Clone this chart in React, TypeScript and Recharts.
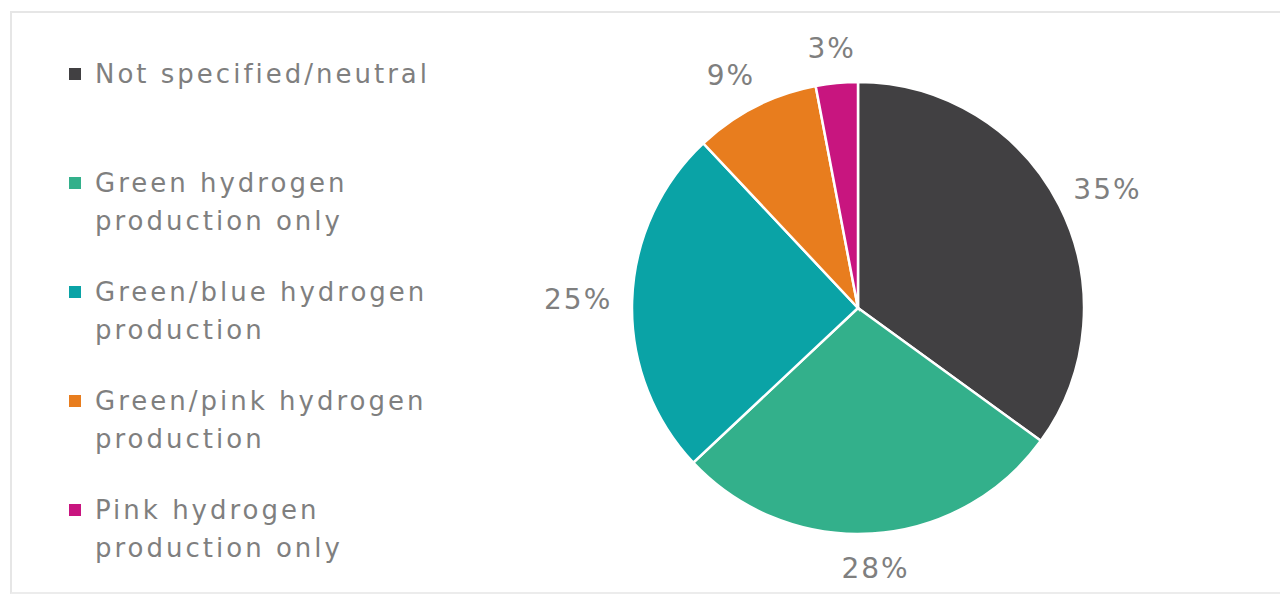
import { PieChart, Pie, Cell } from 'recharts';

const categories = [
  'Not specified/neutral',
  'Green hydrogen\nproduction only',
  'Green/blue hydrogen\nproduction',
  'Green/pink hydrogen\nproduction',
  'Pink hydrogen\nproduction only',
];
const shares = [35, 28, 25, 9, 3];
const colors = ['#414042', '#33b08b', '#0aa3a6', '#e87d1e', '#c8157f'];

const data = categories.map((name, i) => ({ name, value: shares[i] }));

const FONT = '"DejaVu Sans", sans-serif';
const TEXT = '#7f7f7f';
const RAD = Math.PI / 180;

// outside-end labels: box edge sits a little off the rim, like Excel does
function renderLabel(props: any) {
  const { cx, cy, midAngle, outerRadius, value } = props;
  const dx = Math.cos(-midAngle * RAD);
  const dy = Math.sin(-midAngle * RAD);
  const r = outerRadius + 20;
  const x = cx + r * dx + 34 * dx;
  const y = cy + r * dy + 15 * dy;
  return (
    <text
      x={x}
      y={y}
      fill={TEXT}
      fontSize={28}
      fontFamily={FONT}
      letterSpacing={2}
      textAnchor="middle"
      dominantBaseline="central"
    >
      {value}%
    </text>
  );
}

function LegendBox() {
  return (
    <div style={{ fontFamily: FONT, color: TEXT, fontSize: 26, letterSpacing: 3 }}>
      {data.map((d, i) => (
        <div key={d.name} style={{ height: 109, position: 'relative' }}>
          <span
            style={{
              position: 'absolute',
              left: 0,
              top: 13,
              width: 12,
              height: 12,
              background: colors[i],
            }}
          />
          <div style={{ position: 'absolute', left: 26, top: 0, lineHeight: '38px', whiteSpace: 'pre' }}>
            {d.name}
          </div>
        </div>
      ))}
    </div>
  );
}

export default function App() {
  return (
    <div style={{ position: 'absolute', left: 0, top: 0, width: 1280, height: 594, background: '#fff', overflow: 'hidden' }}>
      <div
        style={{
          position: 'absolute',
          left: 10,
          top: 11,
          width: 1290,
          height: 579,
          borderLeft: '2px solid #e6e6e6',
          borderTop: '2px solid #e6e6e6',
          borderBottom: '2px solid #ececec',
        }}
      />
      <div style={{ position: 'absolute', left: 69, top: 55, width: 440 }}>
        <LegendBox />
      </div>
      <div style={{ position: 'absolute', left: 0, top: 0 }}>
        <PieChart width={1280} height={594} margin={{ top: 0, right: 0, bottom: 0, left: 0 }}>
          <Pie
            data={data}
            dataKey="value"
            nameKey="name"
            cx={858}
            cy={308}
            outerRadius={226}
            startAngle={90}
            endAngle={-270}
            stroke="#ffffff"
            strokeWidth={2.5}
            label={renderLabel}
            labelLine={false}
            isAnimationActive={false}
          >
            {data.map((d, i) => (
              <Cell key={d.name} fill={colors[i]} />
            ))}
          </Pie>
        </PieChart>
      </div>
    </div>
  );
}
